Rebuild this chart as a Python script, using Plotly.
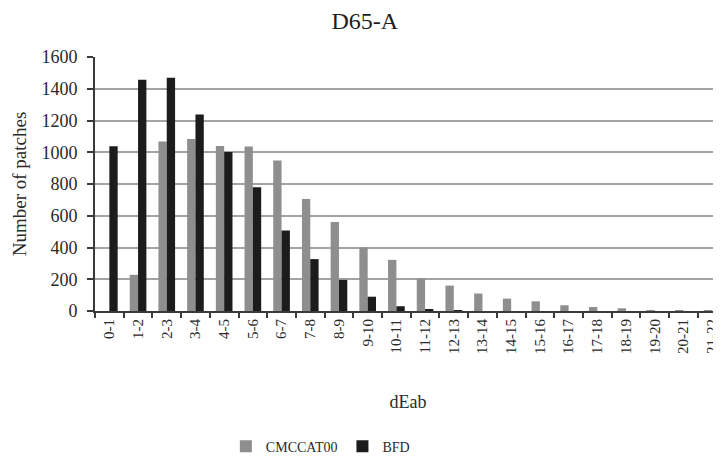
import plotly.graph_objects as go

categories = ["0-1", "1-2", "2-3", "3-4", "4-5", "5-6", "6-7", "7-8", "8-9", "9-10",
              "10-11", "11-12", "12-13", "13-14", "14-15", "15-16", "16-17", "17-18",
              "18-19", "19-20", "20-21", "21-22"]
cmccat00 = [0, 228, 1068, 1083, 1040, 1037, 948, 706, 560, 400,
            322, 206, 160, 110, 78, 61, 36, 25, 17, 6, 2, 1]
bfd = [1038, 1457, 1470, 1238, 1002, 779, 507, 327, 196, 90,
       30, 8, 2, 0, 0, 0, 0, 0, 0, 0, 0, 0]
y_ticks = [0, 200, 400, 600, 800, 1000, 1200, 1400, 1600]

FONT = "Liberation Serif"
TXT = "#2a2a2a"

fig = go.Figure()
fig.add_trace(go.Bar(name="CMCCAT00", x=categories, y=cmccat00,
                     marker=dict(color="#8e8e8e", line=dict(width=0))))
fig.add_trace(go.Bar(name="BFD", x=categories, y=bfd,
                     marker=dict(color="#1c1c1c", line=dict(width=0))))

# The page body adds an offset, so margins are shifted to compensate.
fig.update_layout(
    width=721, height=457,
    margin=dict(l=87, r=8, t=49, b=154),
    paper_bgcolor="white", plot_bgcolor="white",
    barmode="group", bargap=0.42, bargroupgap=0,
    font=dict(family=FONT, color=TXT),
    title=dict(text="D65-A", x=0.431, xref="paper", xanchor="center", y=0.9716, yanchor="middle",
               font=dict(family=FONT, size=24, color="#1e1e1e")),
    legend=dict(orientation="h", x=0.36, xanchor="center",
                yref="container", y=0.04, yanchor="middle",
                font=dict(family=FONT, size=14, color=TXT),
                itemwidth=30, tracegroupgap=0),
    xaxis=dict(
        type="category",
        range=[-0.5, 21.31],
        automargin=False,
        tickangle=-90, tickfont=dict(family=FONT, size=15, color=TXT),
        showline=True, linecolor="#3a3a3a", linewidth=2,
        ticks="outside", ticklen=5, tickwidth=1.5, tickcolor="#3a3a3a",
        tickson="boundaries",
        showgrid=False,
        title=dict(text="dEab", font=dict(family=FONT, size=18, color=TXT), standoff=42),
    ),
    yaxis=dict(
        range=[0, 1600], tickvals=y_ticks,
        automargin=False,
        tickfont=dict(family=FONT, size=18, color=TXT),
        ticklabelstandoff=6,
        showline=True, linecolor="#3a3a3a", linewidth=2,
        ticks="outside", ticklen=6, tickwidth=1.5, tickcolor="#3a3a3a",
        showgrid=True, gridcolor="#a3a3a3", gridwidth=2,
        zeroline=False,
        title=dict(text="Number of patches", font=dict(family=FONT, size=19, color=TXT), standoff=10),
    ),
)

fig.write_html("out.html")
